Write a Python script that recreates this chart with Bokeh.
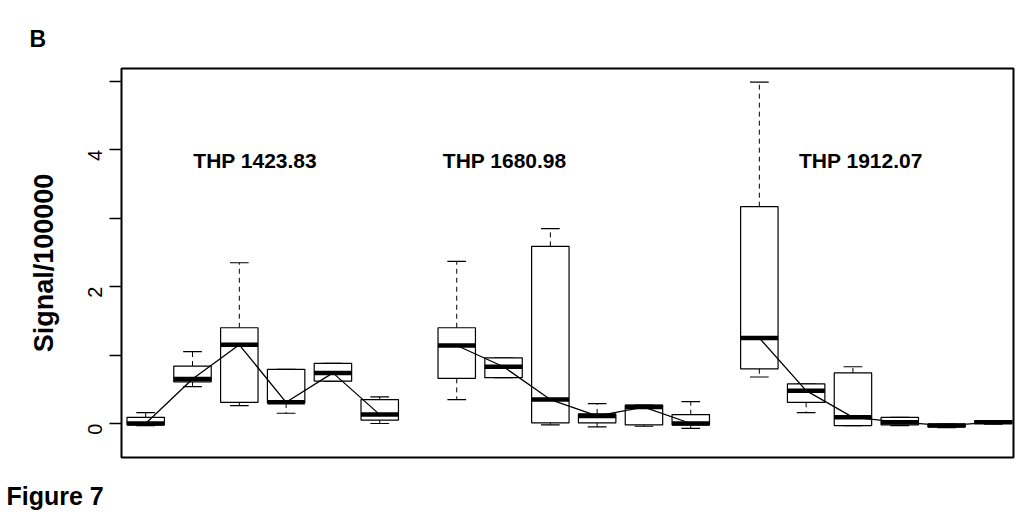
import math
from bokeh.plotting import figure
from bokeh.models import Label, FixedTicker, Range1d, ColumnDataSource, Title
from bokeh.embed import file_html
from bokeh.resources import INLINE

# ---- data (Signal/100000) ----
groups = ["THP 1423.83", "THP 1680.98", "THP 1912.07"]
group_start = [1.0, 7.645, 14.11]          # x of first box in each group
n_per_group = 6

low_whisker = [[-0.03, 0.54, 0.26, 0.15, 0.62, 0.00],
               [0.35, 0.67, -0.02, -0.05, -0.04, -0.07],
               [0.68, 0.16, -0.03, -0.03, -0.06, -0.01]]
q1 = [[-0.02, 0.61, 0.31, 0.30, 0.62, 0.05],
      [0.66, 0.67, 0.01, 0.01, -0.02, -0.02],
      [0.80, 0.31, -0.03, -0.02, -0.05, 0.00]]
median = [[0.00, 0.65, 1.15, 0.31, 0.74, 0.13],
          [1.14, 0.83, 0.35, 0.11, 0.24, 0.00],
          [1.25, 0.48, 0.09, 0.02, -0.03, 0.02]]
q3 = [[0.09, 0.84, 1.40, 0.79, 0.88, 0.35],
      [1.40, 0.96, 2.59, 0.14, 0.27, 0.13],
      [3.17, 0.58, 0.74, 0.09, -0.01, 0.04]]
high_whisker = [[0.16, 1.05, 2.35, 0.79, 0.88, 0.39],
                [2.37, 0.96, 2.85, 0.29, 0.27, 0.32],
                [4.99, 0.58, 0.83, 0.09, -0.01, 0.04]]

y_ticks = [0, 1, 2, 3, 4, 5]
y_tick_labels = {0: "0", 1: "", 2: "2", 3: "", 4: "4", 5: ""}

# group label positions (layout)
label_x = [3.34, 8.67, 16.28]
label_y = 3.85

FONT = "Liberation Sans"
BW = 0.4     # half box width
SW = 0.2     # half staple width

p = figure(frame_width=892, frame_height=389, output_backend="svg", toolbar_location=None,
           x_range=Range1d(0.483, 19.54), y_range=Range1d(-0.497, 5.19),
           min_border_left=121, min_border_right=3, min_border_top=68, min_border_bottom=0,
           background_fill_color="white", border_fill_color="white")
p.xgrid.visible = False
p.ygrid.visible = False
p.outline_line_color = "black"
p.outline_line_width = 2

# x axis used only as an invisible spacer above the caption
xax = p.xaxis[0]
xax.ticker = FixedTicker(ticks=[0.6])
xax.major_label_overrides = {0.6: ""}
xax.major_label_text_font_size = "0px"
xax.major_label_standoff = 0
xax.major_tick_out = 21
xax.major_tick_in = 0
xax.major_tick_line_color = "white"
xax.major_tick_line_width = 0.01
xax.minor_tick_line_color = None
xax.axis_line_color = None

ax = p.yaxis[0]
ax.ticker = FixedTicker(ticks=y_ticks)
ax.major_label_overrides = {k: v for k, v in y_tick_labels.items()}
ax.major_label_orientation = math.pi / 2
ax.major_label_text_font = FONT
ax.major_label_text_font_size = "20px"
ax.major_label_text_color = "black"
ax.major_label_standoff = 14
ax.major_tick_out = 12
ax.major_tick_in = 0
ax.major_tick_line_width = 1.5
ax.minor_tick_line_color = None
ax.axis_line_color = None
ax.axis_label = "Signal/100000"
ax.axis_label_text_font = FONT
ax.axis_label_text_font_style = "bold"
ax.axis_label_text_font_size = "27px"
ax.axis_label_text_color = "black"
ax.axis_label_standoff = 20

xs, l, a, m, b, h = [], [], [], [], [], []
for g in range(len(groups)):
    for k in range(n_per_group):
        xs.append(group_start[g] + k)
        l.append(low_whisker[g][k]); a.append(q1[g][k]); m.append(median[g][k])
        b.append(q3[g][k]); h.append(high_whisker[g][k])

src = ColumnDataSource(dict(x=xs, lo=l, q1=a, med=m, q3=b, hi=h,
                            left=[x - BW for x in xs], right=[x + BW for x in xs],
                            sl=[x - SW for x in xs], sr=[x + SW for x in xs]))

# whiskers
p.segment(x0="x", y0="q3", x1="x", y1="hi", source=src, line_color="black",
          line_width=1, line_dash="5 4")
p.segment(x0="x", y0="q1", x1="x", y1="lo", source=src, line_color="black",
          line_width=1, line_dash="5 4")
# staples
p.segment(x0="sl", y0="hi", x1="sr", y1="hi", source=src, line_color="black", line_width=1.2)
p.segment(x0="sl", y0="lo", x1="sr", y1="lo", source=src, line_color="black", line_width=1.2)
# boxes
p.quad(left="left", right="right", bottom="q1", top="q3", source=src,
       fill_color="white", line_color="black", line_width=1.2)
# medians
p.segment(x0="left", y0="med", x1="right", y1="med", source=src, line_color="black",
          line_width=4.5, line_cap="butt")
# connecting lines
for g in range(len(groups)):
    gx = [group_start[g] + k for k in range(n_per_group)]
    p.line(gx, median[g], line_color="black", line_width=1.3)

for g, name in enumerate(groups):
    p.add_layout(Label(x=label_x[g], y=label_y, text=name, text_align="center",
                       text_baseline="middle", text_font=FONT, text_font_style="bold",
                       text_font_size="21px", text_color="black"))

# panel letter and figure caption as titles outside the frame
p.add_layout(Title(text="B", align="left", offset=-92, standoff=34,
                   text_font=FONT, text_font_style="bold", text_font_size="23px",
                   text_color="black"), "above")
p.add_layout(Title(text="Figure 7", align="left", offset=-115, standoff=2,
                   text_font=FONT, text_font_style="bold", text_font_size="25px",
                   text_color="black"), "below")

open("out.html", "w").write(file_html(p, INLINE))
